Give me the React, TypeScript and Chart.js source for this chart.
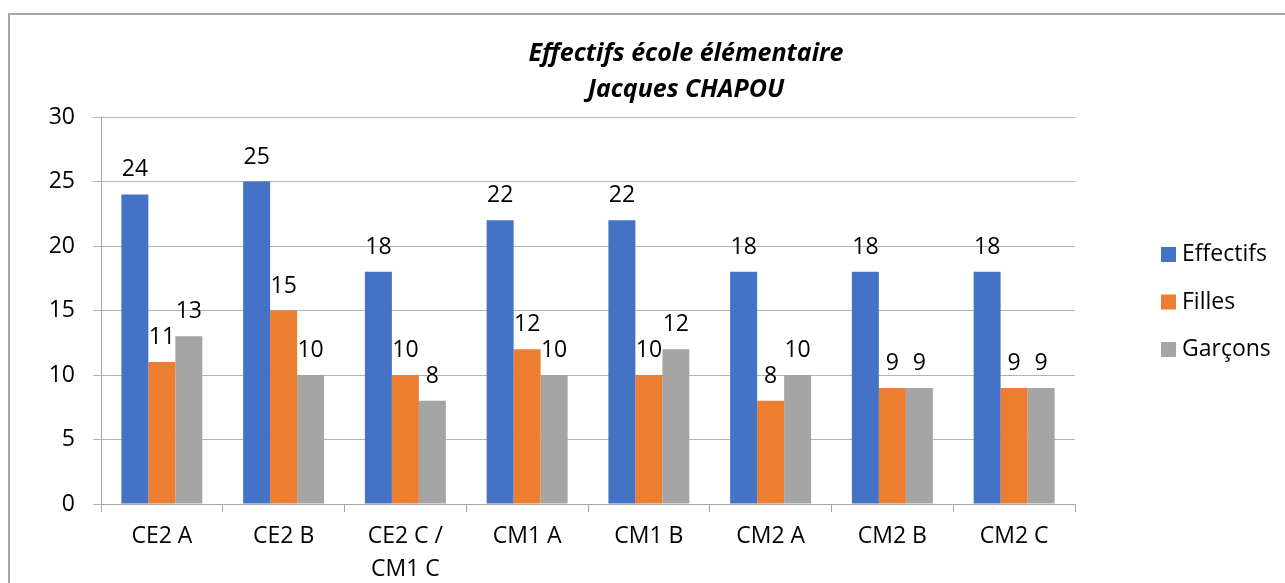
import React, { useEffect, useRef } from 'react';
import { Chart, registerables } from 'chart.js';

Chart.register(...registerables);

const categories: (string | string[])[] = ['CE2 A', 'CE2 B', ['CE2 C /', 'CM1 C'], 'CM1 A', 'CM1 B', 'CM2 A', 'CM2 B', 'CM2 C'];
const seriesNames = ['Effectifs', 'Filles', 'Garçons'];
const effectifs = [24, 25, 18, 22, 22, 18, 18, 18];
const filles = [11, 15, 10, 12, 10, 8, 9, 9];
const garcons = [13, 10, 8, 10, 12, 10, 9, 9];
const seriesColors = ['#4472C4', '#ED7D31', '#A5A5A5'];
const titleLines = ['Effectifs école élémentaire', 'Jacques CHAPOU'];
const yMin = 0;
const yMax = 30;
const yStep = 5;

const FONT = "'Open Sans', 'Noto Sans', sans-serif";

const framePlugin = {
  id: 'frame',
  beforeDraw(chart: any) {
    const ctx = chart.ctx;
    ctx.save();
    ctx.fillStyle = '#ffffff';
    ctx.fillRect(0, 0, chart.width, chart.height);
    ctx.strokeStyle = '#a6a6a6';
    ctx.lineWidth = 2;
    ctx.strokeRect(9, 14, 1300, 600);
    ctx.restore();
  },
};

const titlePlugin = {
  id: 'customTitle',
  afterDraw(chart: any) {
    const ctx = chart.ctx;
    ctx.save();
    ctx.fillStyle = '#000000';
    ctx.font = `italic bold 25px ${FONT}`;
    ctx.textAlign = 'center';
    ctx.textBaseline = 'alphabetic';
    ctx.fillText(titleLines[0], 686, 61);
    ctx.fillText(titleLines[1], 686, 97);
    ctx.restore();
  },
};

const valueLabelPlugin = {
  id: 'valueLabels',
  afterDatasetsDraw(chart: any) {
    const ctx = chart.ctx;
    ctx.save();
    ctx.fillStyle = '#000000';
    ctx.font = `23px ${FONT}`;
    ctx.textAlign = 'center';
    ctx.textBaseline = 'alphabetic';
    chart.data.datasets.forEach((ds: any, i: number) => {
      const meta = chart.getDatasetMeta(i);
      meta.data.forEach((bar: any, j: number) => {
        ctx.fillText(String(ds.data[j]), bar.x, bar.y - 18);
      });
    });
    ctx.restore();
  },
};

const legendPlugin = {
  id: 'customLegend',
  afterDraw(chart: any) {
    const ctx = chart.ctx;
    ctx.save();
    ctx.font = `23px ${FONT}`;
    ctx.textAlign = 'left';
    ctx.textBaseline = 'middle';
    chart.data.datasets.forEach((ds: any, i: number) => {
      const cy = 254.5 + i * 47.5;
      ctx.fillStyle = ds.backgroundColor;
      ctx.fillRect(1161, cy - 7.5, 15, 15);
      ctx.fillStyle = '#000000';
      ctx.fillText(ds.label, 1182, cy);
    });
    ctx.restore();
  },
};

export default function App() {
  const ref = useRef<HTMLCanvasElement | null>(null);

  useEffect(() => {
    if (!ref.current) return;
    const chart = new Chart(ref.current, {
      type: 'bar',
      data: {
        labels: categories,
        datasets: [
          { label: seriesNames[0], data: effectifs, backgroundColor: seriesColors[0] },
          { label: seriesNames[1], data: filles, backgroundColor: seriesColors[1] },
          { label: seriesNames[2], data: garcons, backgroundColor: seriesColors[2] },
        ],
      },
      options: {
        animation: false,
        responsive: false,
        devicePixelRatio: 1,
        layout: { padding: { left: 0, top: 117, right: 210, bottom: 0 } },
        datasets: {
          bar: { barPercentage: 1, categoryPercentage: 0.665, borderWidth: 0 },
        },
        plugins: {
          legend: { display: false },
          title: { display: false },
          tooltip: { enabled: false },
        },
        scales: {
          x: {
            afterFit(scale: any) { scale.height = 79; },
            grid: {
              display: true,
              drawOnChartArea: false,
              drawTicks: true,
              tickLength: 8,
              color: '#a6a6a6',
              offset: true,
            },
            border: { display: true, color: '#a6a6a6' },
            ticks: {
              color: '#000000',
              font: { family: FONT, size: 23, lineHeight: 1.43 },
              padding: 8,
              maxRotation: 0,
              autoSkip: false,
            },
          },
          y: {
            min: yMin,
            max: yMax,
            afterFit(scale: any) { scale.width = 101; },
            grid: {
              color: '#b3b3b3',
              drawTicks: true,
              tickLength: 8,
            },
            border: { display: true, color: '#a6a6a6' },
            ticks: {
              stepSize: yStep,
              color: '#000000',
              font: { family: FONT, size: 23 },
              padding: 18,
            },
          },
        },
      },
      plugins: [framePlugin, titlePlugin, valueLabelPlugin, legendPlugin],
    } as any);
    return () => chart.destroy();
  }, []);

  return (
    <div style={{ position: 'fixed', left: 0, top: 0, width: 1285, height: 583, overflow: 'hidden', background: '#fff' }}>
      <canvas ref={ref} width={1285} height={583} style={{ width: 1285, height: 583, display: 'block' }} />
    </div>
  );
}
